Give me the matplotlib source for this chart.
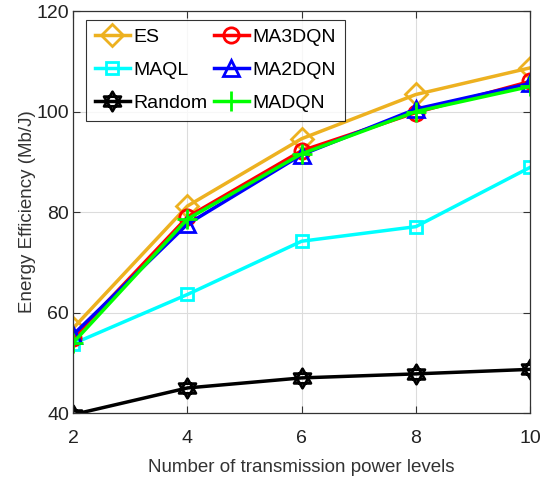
import numpy as np
import matplotlib
matplotlib.use("Agg")
import matplotlib.pyplot as plt
from matplotlib.path import Path

plt.rcParams['font.family'] = ['Liberation Sans', 'DejaVu Sans']

# data
levels = [2, 4, 6, 8, 10]
es = [56.9, 81.2, 94.6, 103.4, 108.7]
ma3dqn = [55.0, 79.0, 92.2, 99.8, 106.0]
ma2dqn = [55.6, 77.6, 91.4, 100.5, 105.6]
madqn = [54.0, 78.6, 91.6, 100.0, 105.0]
maql = [53.8, 63.6, 74.2, 77.1, 88.9]
rnd = [39.7, 45.0, 47.0, 47.8, 48.7]

# six-pointed star (two overlapping triangles)
ang1 = np.deg2rad([90, 210, 330, 90])
ang2 = np.deg2rad([270, 30, 150, 270])
verts = list(zip(np.cos(ang1), np.sin(ang1))) + list(zip(np.cos(ang2), np.sin(ang2)))
codes = [Path.MOVETO, Path.LINETO, Path.LINETO, Path.CLOSEPOLY] * 2
hexagram = Path(verts, codes)

fig = plt.figure(figsize=(5.42, 4.82), dpi=100)
ax = fig.add_axes([0.135, 0.143, 0.843, 0.834])

lw = 2.5
# plotted in legend order (column-wise: ES, MAQL, Random | MA3DQN, MA2DQN, MADQN)
ax.plot(levels, es, color='#EDB120', marker='D', ms=11, mfc='none', mew=2, lw=lw, label='ES')
ax.plot(levels, maql, color='cyan', marker='s', ms=9, mfc='none', mew=2, lw=lw, label='MAQL')
ax.plot(levels, rnd, color='black', marker=hexagram, ms=14, mfc='none', mew=2, lw=lw, label='Random')
ax.plot(levels, ma3dqn, color='red', marker='o', ms=11, mfc='none', mew=2, lw=lw, label='MA3DQN')
ax.plot(levels, ma2dqn, color='blue', marker='^', ms=12, mfc='none', mew=2, lw=lw, label='MA2DQN')
ax.plot(levels, madqn, color='#00FF00', marker='+', ms=14, mew=2, lw=lw, label='MADQN')

ax.set_xlim(2, 10)
ax.set_ylim(40, 120)
ax.set_xticks(levels)
ax.set_yticks([40, 60, 80, 100, 120])
ax.grid(True, color='#dcdcdc', lw=0.8)
ax.set_axisbelow(True)
ax.tick_params(direction='in', top=True, right=True, labelsize=14, length=5, color='#333333',
               labelcolor='#222222')
ax.tick_params(axis='x', pad=12)
ax.tick_params(axis='y', pad=3)
for s in ax.spines.values():
    s.set_color('#333333')
    s.set_linewidth(0.9)

ax.set_xlabel('Number of transmission power levels', fontsize=13.5, color='#333333', labelpad=9)
ax.set_ylabel('Energy Efficiency (Mb/J)', fontsize=13.5, color='#333333', labelpad=0)

leg = ax.legend(ncol=2, loc='upper left', bbox_to_anchor=(0.028, 0.978), borderaxespad=0,
                fontsize=14, frameon=True, fancybox=False, edgecolor='black', handlelength=1.8,
                handletextpad=0.2, columnspacing=0.3, labelspacing=0.78, borderpad=0.45)
leg.get_frame().set_linewidth(0.8)

fig.savefig('out.png', dpi=100)
